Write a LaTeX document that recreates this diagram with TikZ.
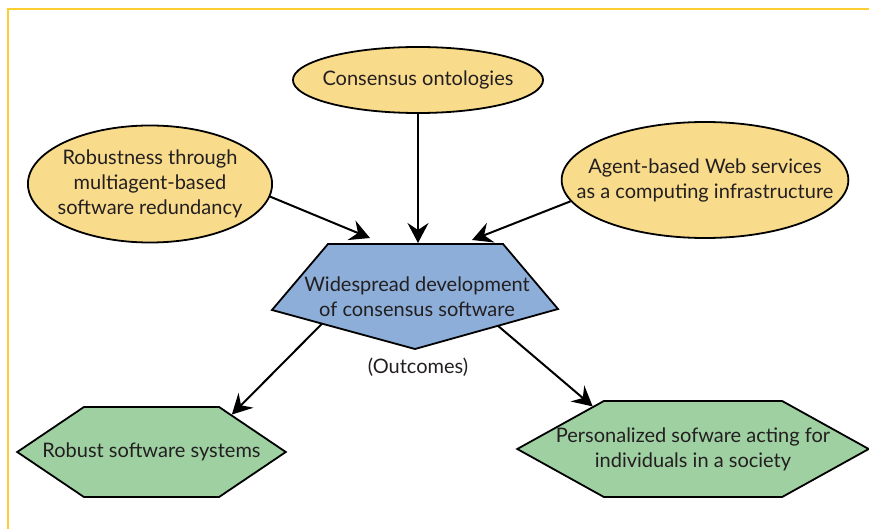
\documentclass[tikz,border=0pt]{standalone}
\usepackage{fontspec}
\setmainfont{Lato}
\usepackage{xcolor}
\usetikzlibrary{arrows.meta,positioning,shapes.geometric,shapes.symbols,calc}

\definecolor{goalfill}{HTML}{F9DB8C}
\definecolor{devfill}{HTML}{8CAED9}
\definecolor{outfill}{HTML}{9ED0A2}
\definecolor{inkgray}{HTML}{231F20}
\definecolor{framegold}{HTML}{FBCF32}

\begin{document}
\begin{tikzpicture}[
        x=1pt,y=-1pt,
        font=\fontsize{20}{25}\selectfont,
        text=inkgray,
        >={Stealth[length=20pt,width=21pt,inset=7pt]},
        goal/.style={ellipse,draw,line width=1.8pt,fill=goalfill,align=center,inner sep=0pt},
        outcome/.style={signal,signal to=west and east,draw,line width=1.8pt,fill=outfill,align=center,inner ysep=0pt},
        devshape/.style={draw,line width=1.8pt,fill=devfill,line join=miter},
        arrow/.style={->,line width=2pt}
    ]
        \useasboundingbox (0,0) rectangle (869,529);
        \draw[framegold,line width=2pt] (8,529) -- (8,9) -- (869,9);

        % inputs
        \node[goal,inner xsep=-7pt,minimum width=247pt,minimum height=66pt] (onto) at (418,80) {Consensus ontologies};
        \node[goal,inner xsep=-6pt,minimum width=244pt,minimum height=117pt] (robust) at (150,184) {Robustness through\\multiagent-based\\software redundancy};
        \node[goal,inner xsep=-27pt,minimum width=285pt,minimum height=116pt] (agent) at (705,180) {Agent-based Web services\\as a computing infrastructure};

        % centre
        \draw[devshape] (328,244) coordinate (devTL) -- (503,244) coordinate (devTR)
            -- (558,309) coordinate (devR) -- (415,349) coordinate (devB)
            -- (272,310) coordinate (devL) -- cycle;
        \node[align=center] (dev) at (417,297) {Widespread development\\of consensus software};
        \node (outlabel) at (418,367) {(Outcomes)};

        % outcomes
        \node[outcome,inner xsep=-41.5pt,signal pointer angle=68,minimum height=90pt] (robustsw) at (151.5,452) {Robust software systems};
        \node[outcome,inner xsep=-48pt,signal pointer angle=58,minimum height=96pt] (personal) at (693,449) {Personalized sofware acting for\\individuals in a society};

        \coordinate (inL) at (370,238);
        \coordinate (inTop) at (418,243);
        \coordinate (inR) at (472,240);
        \coordinate (outL) at ($(devL)!0.35!(devB)$);
        \coordinate (outR) at ($(devR)!0.42!(devB)$);

        \draw[arrow] (robust.-6) -- (inL);
        \draw[arrow] (onto) -- (inTop);
        \draw[arrow] (agent.189) -- (inR);
        \draw[arrow] (outL) -- (robustsw.25);
        \draw[arrow] (outR) -- (personal.157);
    \end{tikzpicture}
\end{document}
